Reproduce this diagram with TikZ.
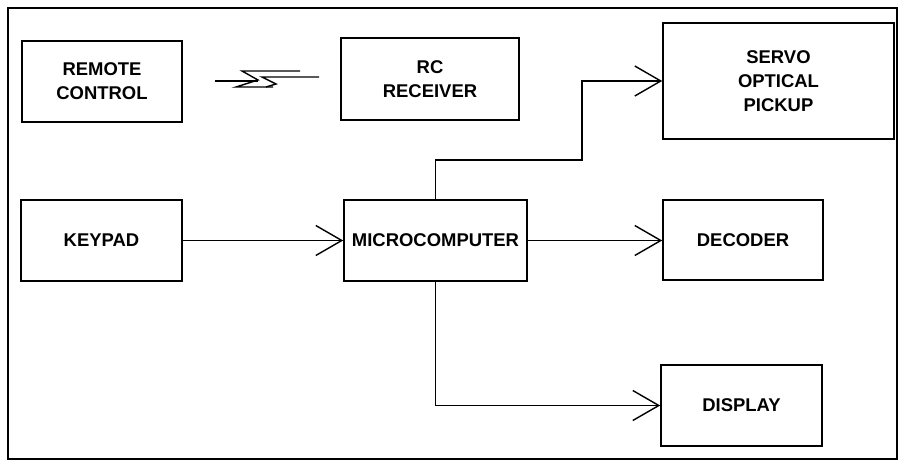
\documentclass[tikz,border=0pt]{standalone}
\usepackage{fontspec}
\setmainfont{Liberation Sans}
\usepackage{tikz}
\usetikzlibrary{arrows.meta,calc}
\tikzset{
  blk/.style={draw=black,line width=0.9pt,align=center,inner sep=0pt,
    font=\fontsize{10.5}{13.6}\selectfont\bfseries},
  flow/.style={-{Straight Barb[length=5.2mm,width=6mm,line width=0.8pt]},
    line width=0.8pt},
  frame/.style={line width=1.1pt},
  link/.style={line width=0.8pt,line join=miter},
}
\begin{document}
\begin{tikzpicture}[x=0.2mm,y=-0.2mm]
  \useasboundingbox (0,0) rectangle (900,461);
  \draw[frame] (8,8) rectangle (897,459);
  \node[blk,minimum width=3.2cm,minimum height=1.62cm] (remote) at (102,81.5) {REMOTE\\CONTROL};
  \node[blk,minimum width=3.56cm,minimum height=1.64cm] (rcrx) at (430,79) {RC\\RECEIVER};
  \node[blk,minimum width=4.62cm,minimum height=2.32cm] (servo) at (778.5,81) {SERVO\\OPTICAL\\PICKUP};
  \node[blk,minimum width=3.22cm,minimum height=1.62cm] (keypad) at (101.5,240.5) {KEYPAD};
  \node[blk,minimum width=3.66cm,minimum height=1.62cm] (micro) at (435.5,240.5) {MICROCOMPUTER};
  \node[blk,minimum width=3.2cm,minimum height=1.6cm] (decoder) at (743,240) {DECODER};
  \node[blk,minimum width=3.22cm,minimum height=1.62cm] (display) at (741.5,405.5) {DISPLAY};
  \coordinate (bend) at (582,160);
  \draw[flow] (keypad) -- (micro);
  \draw[flow] (micro.east) -- (micro.east -| decoder.west);
  \draw[flow] (micro.north) |- (bend) |- (servo.west);
  \draw[flow] (micro.south) |- (display.west);
  % radio link
  \draw[link] (215,81) -- (258,81);
  \draw[link] (300,71) -- (242,71) -- (258,80) -- (236,87) -- (273,87);
  \draw[link] (319,77) -- (262,77) -- (276,84) -- (266,87);
\end{tikzpicture}
\end{document}
